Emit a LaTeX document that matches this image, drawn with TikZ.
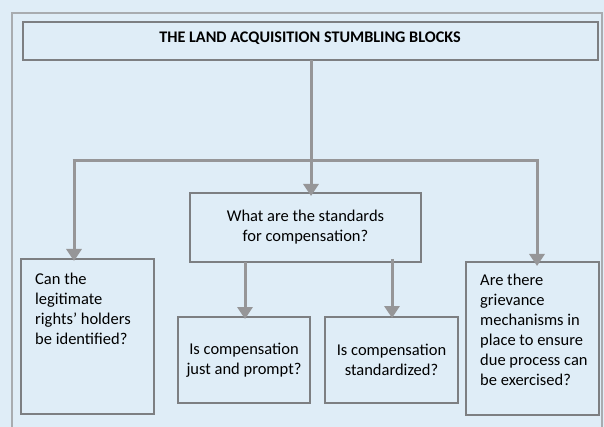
\documentclass[tikz,border=0pt]{standalone}
\usepackage{fontspec}
\setmainfont{Carlito}
\usetikzlibrary{arrows.meta}
\definecolor{paper}{RGB}{223,237,247}
\definecolor{frameline}{RGB}{168,172,176}
\definecolor{boxline}{RGB}{125,127,130}
\definecolor{linkline}{RGB}{150,150,152}
\tikzset{
  panel/.style={draw=boxline, line width=1.3pt, fill=paper, inner sep=0pt, outer sep=0pt},
  qtext/.style={font=\fontsize{16.5}{20}\selectfont, align=left, inner sep=0pt, anchor=north west},
  ctext/.style={font=\fontsize{16.5}{20}\selectfont, align=center},
  link/.style={draw=linkline, line width=3pt, -{Triangle[width=15pt,length=12pt]}},
  bar/.style={draw=linkline, line width=3pt}
}
\begin{document}
\begin{tikzpicture}[x=1pt, y=-1pt]
  \clip (0,0) rectangle (604,427);
  \fill[paper] (0,0) rectangle (604,427);
  % outer frame
  \draw[frameline, line width=1.3pt] (12,440) -- (12,13) -- (602,13) -- (602,440);

  % boxes
  \node[panel, minimum width=575pt, minimum height=38pt] (title) at (310.5,41) {};
  \node[font=\bfseries\fontsize{16.2}{18}\selectfont] (titletxt) at (310,38.5)
    {THE LAND ACQUISITION STUMBLING BLOCKS};
  \node[panel, minimum width=231pt, minimum height=69pt] (std) at (305.5,227.5) {};
  \node[ctext] at (std) {What are the standards\\for compensation?};
  \node[panel, minimum width=133pt, minimum height=155pt] (rights) at (87.5,336.5) {};
  \node[panel, minimum width=133pt, minimum height=153pt] (griev) at (532.5,338.5) {};
  \node[panel, minimum width=132pt, minimum height=86pt] (just) at (244,360) {};
  \node[ctext] at (just) {Is compensation\\just and prompt?};
  \node[panel, minimum width=133pt, minimum height=86pt] (stdz) at (391.5,360) {};
  \node[ctext] at (stdz) {Is compensation\\standardized?};

  \node[qtext] (rightstxt) at ([xshift=14pt, yshift=-14pt]rights.north west)
    {Can the\\legitimate\\rights’ holders\\be identified?};
  \node[qtext] (grievtxt) at ([xshift=14pt, yshift=-11.5pt]griev.north west)
    {Are there\\grievance\\mechanisms in\\place to ensure\\due process can\\be exercised?};

  % connectors
  \coordinate (hub) at (311,161);
  \coordinate (lcorner) at (74,161);
  \coordinate (rcorner) at (537,161);
  \draw[link] (title.south -| hub) -- ([yshift=-3pt]std.north -| hub);
  \draw[bar] ([xshift=-1.5pt]lcorner) -- ([xshift=1.5pt]rcorner);
  \draw[link] ([yshift=1.5pt]lcorner) -- ([yshift=-2pt]rights.north -| lcorner);
  \draw[link] ([yshift=1.5pt]rcorner) -- ([yshift=-4pt]griev.north -| rcorner);
  \coordinate (sa) at (245,0);
  \coordinate (sb) at (392,0);
  \draw[link] (std.south -| sa) -- ([yshift=-2pt]just.north -| sa);
  \draw[link] ([yshift=3pt]std.south -| sb) -- ([yshift=-1pt]stdz.north -| sb);
\end{tikzpicture}
\end{document}
